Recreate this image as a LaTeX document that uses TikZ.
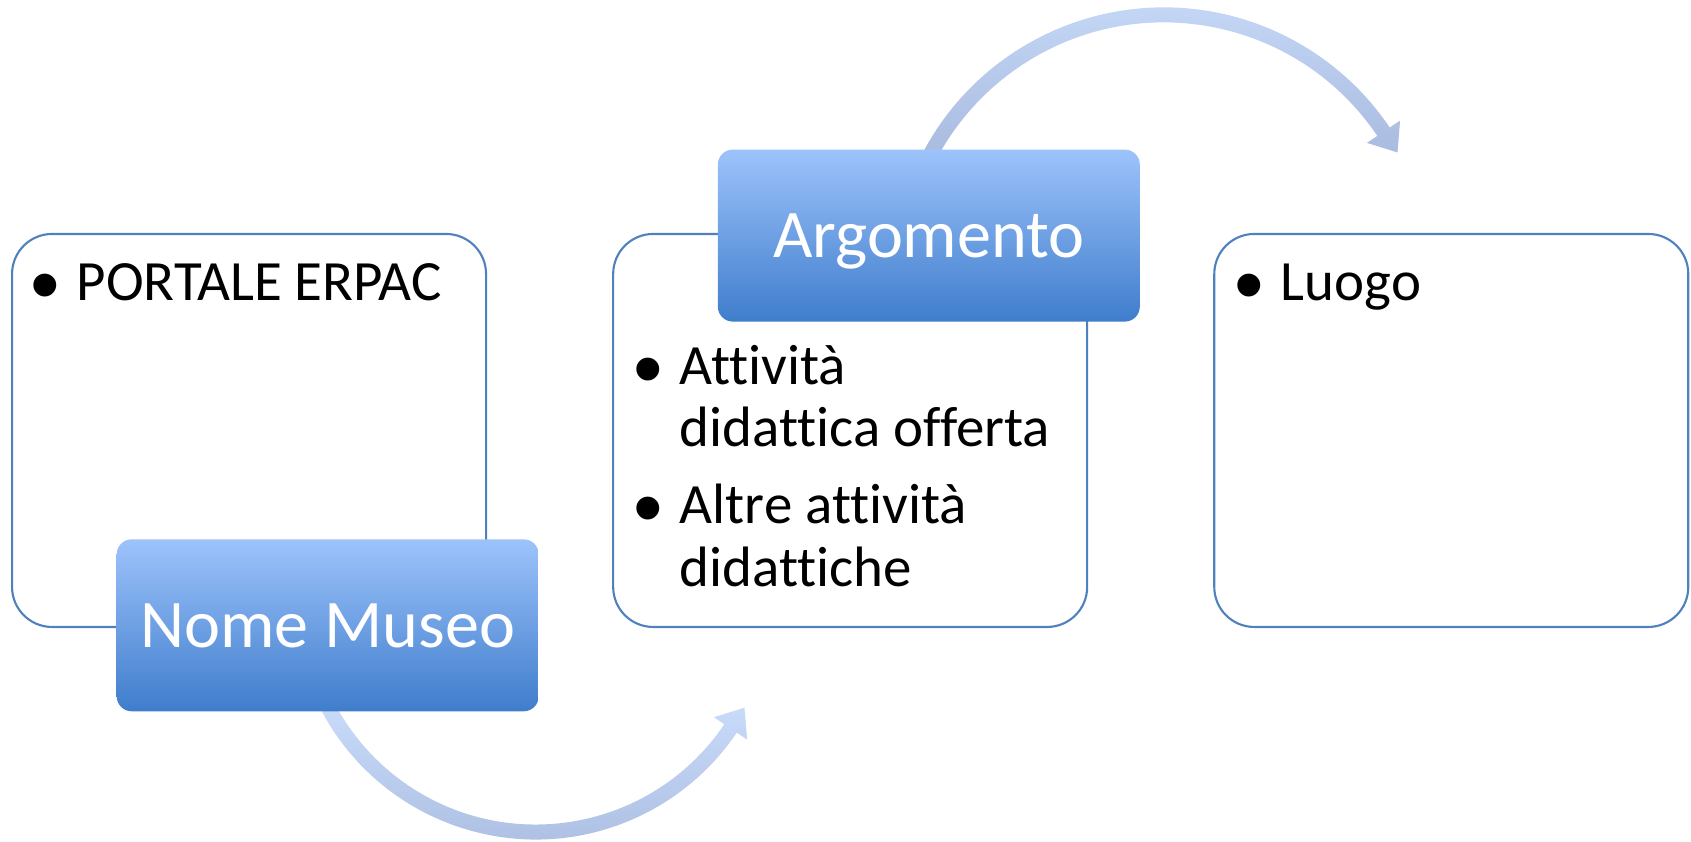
\documentclass[tikz,border=0pt]{standalone}
\usepackage{fontspec}
\setmainfont[Ligatures=NoCommon]{Carlito}
\newfontfamily\bulletfont{Liberation Sans}
\usetikzlibrary{positioning}
\usetikzlibrary{calc}
\usetikzlibrary{backgrounds}
\definecolor{boxline}{HTML}{4F81BD}
\definecolor{blutop}{HTML}{9DC3FB}
\definecolor{blubot}{HTML}{3F7DCC}
\definecolor{arwtop}{HTML}{CADDFB}
\definecolor{arwbot}{HTML}{A8BBDF}
\newcommand{\bodysize}{\fontsize{16.2}{17.8}\selectfont}
\newcommand{\headsize}{\fontsize{19.4}{23}\selectfont}
\newcommand{\bul}{\raisebox{-1.3mm}{\bulletfont\fontsize{24}{17.8}\selectfont •}}

\begin{document}
\begin{tikzpicture}[x=0.1mm,y=0.1mm
    ,node distance=12.5mm
    ,panel/.style={draw=boxline,line width=0.6pt,fill=white,rounded corners=4mm
                  ,minimum width=47.4mm,minimum height=39.3mm,inner sep=0pt}
    ,header/.style={rounded corners=1.5mm,top color=blutop,bottom color=blubot
                   ,minimum width=42.2mm,minimum height=17.2mm,inner sep=0pt
                   ,text=white,font=\headsize,text height=12.5pt,text depth=0pt}
    ,items/.style={inner sep=0pt,font=\bodysize,anchor=north west}
    ,arcarrow/.style={top color=arwtop,bottom color=arwbot}]
  \useasboundingbox (0,0) rectangle (1691,841);

  \node[panel,anchor=south west] (erpac) at (11,213) {};
  \node[panel,right=of erpac] (attivita) {};
  \node[panel,right=of attivita] (luogo) {};

  \node[header,anchor=south west] (museo) at ([shift={(105,-84)}]erpac.south west) {Nome Museo};
  \node[header,anchor=north west] (argomento) at ([shift={(105,84)}]attivita.north west) {Argomento};

  \node[items] (lista1) at ([shift={(19,-23)}]erpac.north west)
    {\begin{tabular}{@{}p{4.6mm}@{}l@{}}\bul&PORTALE ERPAC\end{tabular}};
  \node[items] (lista2) at ([shift={(21,-107)}]attivita.north west)
    {\begin{tabular}{@{}p{4.6mm}@{}l@{}}
       \bul&Attività\\
           &didattica offerta\\[1.4mm]
       \bul&Altre attività\\
           &didattiche
     \end{tabular}};
  \node[items] (lista3) at ([shift={(21,-23)}]luogo.north west)
    {\begin{tabular}{@{}p{4.6mm}@{}l@{}}\bul&Luogo\end{tabular}};

  \coordinate (c1) at ([shift={(208,115)}]museo.south);
  \coordinate (c2) at ([shift={(235,-131)}]argomento.north);
  \begin{scope}[on background layer]
    \shade[arcarrow] ([shift={(205:242.5)}]c1) arc[start angle=205,end angle=326,radius=242.5]
      -- ([shift={(326:255)}]c1) -- ($(c1)+(326:235)+(56:25)$) -- ([shift={(326:215)}]c1)
      -- ([shift={(326:227.5)}]c1) arc[start angle=326,end angle=205,radius=227.5] -- cycle;
    \shade[arcarrow] ([shift={(152:272.5)}]c2) arc[start angle=152,end angle=34,radius=272.5]
      -- ([shift={(34:285)}]c2) -- ($(c2)+(34:265)+(-56:25)$) -- ([shift={(34:245)}]c2)
      -- ([shift={(34:257.5)}]c2) arc[start angle=34,end angle=152,radius=257.5] -- cycle;
  \end{scope}
\end{tikzpicture}
\end{document}
